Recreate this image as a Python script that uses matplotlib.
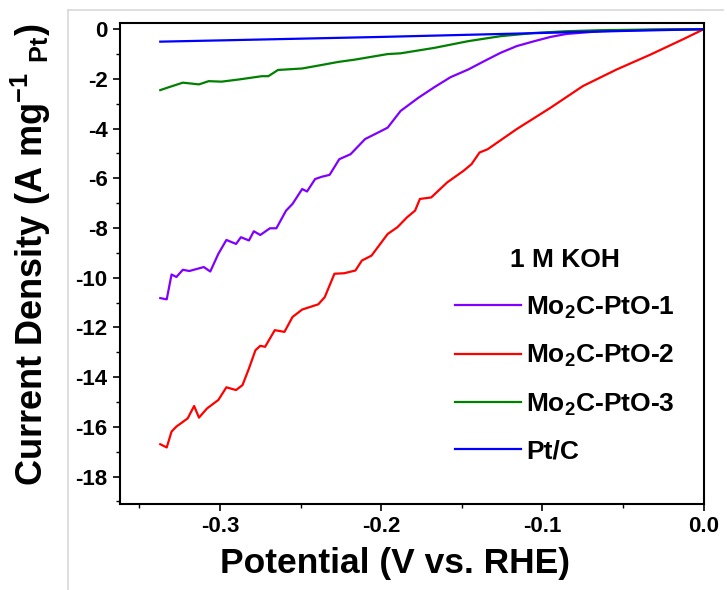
import numpy as np
import matplotlib
matplotlib.use("Agg")
import matplotlib.pyplot as plt
from matplotlib.ticker import MultipleLocator

plt.rcParams['font.family'] = ['Liberation Sans', 'DejaVu Sans']
plt.rcParams['font.weight'] = 'bold'
plt.rcParams['mathtext.fontset'] = 'custom'
plt.rcParams['mathtext.rm'] = 'Liberation Sans:bold'
plt.rcParams['mathtext.it'] = 'Liberation Sans:bold'
plt.rcParams['mathtext.bf'] = 'Liberation Sans:bold'
plt.rcParams['axes.unicode_minus'] = False

labels = ['Mo$_2$C-PtO-1', 'Mo$_2$C-PtO-2', 'Mo$_2$C-PtO-3', 'Pt/C']
colors = ['#8000ff', '#ff0000', '#008000', '#0000ff']

# Mo2C-PtO-1
x1 = [-0.337, -0.333, -0.330, -0.327, -0.323, -0.319, -0.310, -0.306, -0.301, -0.296,
      -0.290, -0.287, -0.282, -0.279, -0.275, -0.269, -0.265, -0.259, -0.255, -0.249,
      -0.246, -0.241, -0.237, -0.232, -0.226, -0.219, -0.210, -0.202, -0.196, -0.188,
      -0.177, -0.167, -0.157, -0.146, -0.136, -0.126, -0.116, -0.105, -0.095, -0.085,
      -0.064, -0.044, -0.020, 0.0]
y1 = [-10.82, -10.87, -9.87, -9.97, -9.68, -9.73, -9.57, -9.75, -9.04, -8.48,
      -8.64, -8.37, -8.50, -8.13, -8.28, -8.01, -8.01, -7.30, -7.03, -6.43,
      -6.53, -6.03, -5.94, -5.86, -5.23, -5.03, -4.42, -4.16, -3.96, -3.29,
      -2.76, -2.33, -1.93, -1.62, -1.28, -0.95, -0.68, -0.48, -0.31, -0.19,
      -0.08, -0.04, -0.01, 0.0]

# Mo2C-PtO-2
x2 = [-0.337, -0.333, -0.330, -0.327, -0.320, -0.316, -0.313, -0.308, -0.301, -0.296,
      -0.290, -0.286, -0.282, -0.278, -0.275, -0.272, -0.266, -0.260, -0.255, -0.249,
      -0.239, -0.235, -0.229, -0.223, -0.216, -0.212, -0.206, -0.196, -0.190, -0.184,
      -0.179, -0.176, -0.169, -0.159, -0.149, -0.144, -0.139, -0.134, -0.116, -0.095,
      -0.075, -0.054, -0.033, -0.013, 0.0]
y2 = [-16.70, -16.83, -16.19, -15.99, -15.66, -15.16, -15.63, -15.26, -14.92, -14.41,
      -14.52, -14.32, -13.65, -12.92, -12.74, -12.78, -12.11, -12.18, -11.58, -11.28,
      -11.07, -10.78, -9.84, -9.82, -9.71, -9.31, -9.11, -8.24, -7.97, -7.57,
      -7.30, -6.83, -6.77, -6.16, -5.70, -5.43, -4.96, -4.83, -4.02, -3.16,
      -2.29, -1.62, -1.02, -0.41, 0.0]

# Mo2C-PtO-3
x3 = [-0.337, -0.332, -0.323, -0.313, -0.307, -0.299, -0.288, -0.274, -0.270, -0.264,
      -0.249, -0.237, -0.227, -0.216, -0.196, -0.188, -0.167, -0.146, -0.126, -0.105,
      -0.085, -0.064, -0.030, 0.0]
y3 = [-2.45, -2.34, -2.15, -2.22, -2.09, -2.11, -2.02, -1.89, -1.89, -1.64,
      -1.58, -1.44, -1.32, -1.22, -1.00, -0.97, -0.75, -0.48, -0.28, -0.15,
      -0.08, -0.04, -0.01, 0.0]

# Pt/C
x4 = [-0.337, -0.300, -0.250, -0.200, -0.150, -0.100, -0.050, 0.0]
y4 = [-0.50, -0.45, -0.38, -0.31, -0.23, -0.15, -0.07, 0.0]

fig = plt.figure(figsize=(7.27, 5.9), dpi=100)
ax = fig.add_axes([0.165, 0.146, 0.803, 0.815])

for xs, ys, c, lab in zip([x1, x2, x3, x4], [y1, y2, y3, y4], colors, labels):
    ax.plot(xs, ys, color=c, lw=1.6, label=lab)

ax.set_xlim(-0.362, 0.0)
ax.set_ylim(-19.1, 0.25)
ax.xaxis.set_major_locator(MultipleLocator(0.1))
ax.xaxis.set_minor_locator(MultipleLocator(0.05))
ax.yaxis.set_major_locator(MultipleLocator(2))
ax.yaxis.set_minor_locator(MultipleLocator(1))
ax.xaxis.set_major_formatter(matplotlib.ticker.FormatStrFormatter('%.1f'))
ax.tick_params(which='major', direction='out', length=5, width=1.2, labelsize=16, pad=4)
ax.tick_params(which='minor', direction='out', length=3, width=1.0)
for s in ax.spines.values():
    s.set_linewidth(1.5)

ax.set_xlabel('Potential (V vs. RHE)', fontsize=25.5, fontweight='bold')
ax.set_ylabel(r'Current Density (A mg$^{-1}$ $_{Pt}$)', fontsize=26, fontweight='bold')
ax.xaxis.set_label_coords(0.471, -0.09)
ax.yaxis.set_label_coords(-0.115, 0.518)

leg = ax.legend(title='1 M KOH', loc='upper left', bbox_to_anchor=(0.521, 0.596),
                frameon=False, fontsize=19, title_fontsize=19, handlelength=2.5,
                handletextpad=0.2, labelspacing=0.84, borderpad=0.68)
leg.get_title().set_fontweight('bold')

# faint screenshot border
fig.add_artist(plt.Line2D([0.094, 0.994], [0.983, 0.983], color='#d8d8d8', lw=1.2))
fig.add_artist(plt.Line2D([0.094, 0.094], [0.0, 0.983], color='#d8d8d8', lw=1.2))

fig.savefig('out.png', dpi=100)
